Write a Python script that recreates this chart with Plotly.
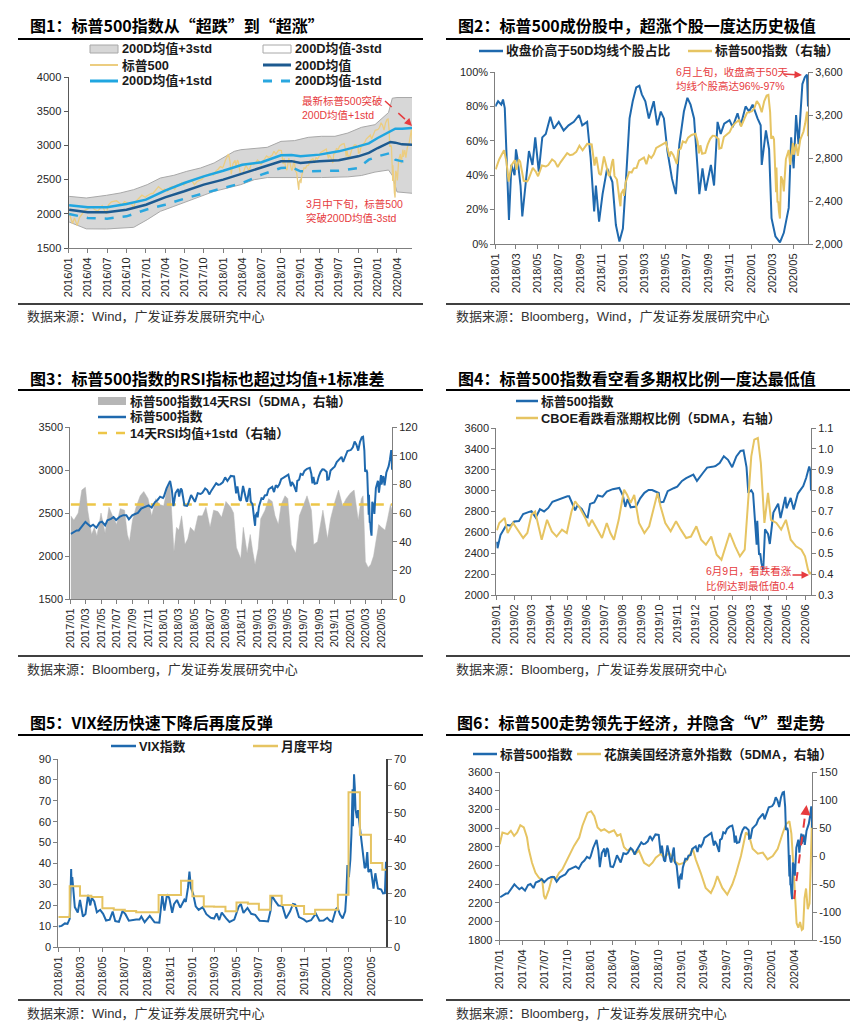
import plotly.graph_objects as go

# ------------------------------------------------------------------ data
END = "2020-06-11"

sp_dates_2016 = ["2016-01-04","2016-01-20","2016-01-29","2016-02-11","2016-02-22","2016-03-04","2016-03-18","2016-04-01","2016-04-20","2016-05-06","2016-05-19","2016-06-08","2016-06-27","2016-07-08","2016-07-22","2016-08-15","2016-09-09","2016-09-22","2016-10-07","2016-10-25","2016-11-04","2016-11-10","2016-11-25","2016-12-13","2016-12-30"]
sp_close_2016 = [2013,1859,1940,1829,1946,1999,2050,2073,2102,2057,2040,2119,2001,2130,2175,2191,2128,2177,2153,2143,2085,2167,2213,2272,2239]
sp_dates_2017 = ["2017-01-03","2017-01-13","2017-01-26","2017-02-03","2017-02-15","2017-03-01","2017-03-10","2017-03-21","2017-03-31","2017-04-13","2017-04-25","2017-05-05","2017-05-17","2017-05-26","2017-06-09","2017-06-19","2017-06-29","2017-07-14","2017-07-27","2017-08-08","2017-08-18","2017-08-31","2017-09-11","2017-09-22","2017-10-05","2017-10-20","2017-11-03","2017-11-15","2017-11-28","2017-12-08","2017-12-18","2017-12-29"]
sp_close_2017 = [2258,2275,2297,2297,2349,2396,2372,2344,2363,2329,2388,2399,2357,2416,2432,2453,2419,2459,2475,2474,2426,2472,2488,2502,2552,2575,2588,2564,2627,2652,2690,2674]
sp_dates_2018 = ["2018-01-02","2018-01-12","2018-01-26","2018-02-02","2018-02-08","2018-02-16","2018-02-26","2018-03-02","2018-03-09","2018-03-13","2018-03-23","2018-04-02","2018-04-06","2018-04-18","2018-04-27","2018-05-03","2018-05-14","2018-05-25","2018-06-01","2018-06-12","2018-06-20","2018-06-28","2018-07-06","2018-07-17","2018-07-25","2018-08-02","2018-08-10","2018-08-20","2018-08-29","2018-09-07","2018-09-20","2018-10-03","2018-10-11","2018-10-16","2018-10-24","2018-10-29","2018-11-07","2018-11-20","2018-11-23","2018-11-30","2018-12-03","2018-12-07","2018-12-14","2018-12-21","2018-12-24","2018-12-26","2018-12-31"]
sp_close_2018 = [2695,2786,2873,2762,2581,2732,2780,2691,2786,2765,2588,2582,2604,2708,2670,2630,2730,2721,2735,2786,2767,2716,2760,2809,2846,2827,2833,2857,2914,2872,2931,2926,2729,2810,2656,2641,2814,2642,2633,2760,2790,2633,2600,2417,2351,2468,2507]
sp_dates_2019 = ["2019-01-02","2019-01-03","2019-01-08","2019-01-18","2019-01-25","2019-01-31","2019-02-08","2019-02-15","2019-02-25","2019-03-01","2019-03-08","2019-03-15","2019-03-22","2019-03-29","2019-04-05","2019-04-12","2019-04-23","2019-04-30","2019-05-03","2019-05-13","2019-05-17","2019-05-24","2019-05-31","2019-06-03","2019-06-07","2019-06-14","2019-06-20","2019-06-28","2019-07-05","2019-07-15","2019-07-26","2019-08-01","2019-08-05","2019-08-09","2019-08-14","2019-08-23","2019-08-30","2019-09-06","2019-09-13","2019-09-19","2019-09-30","2019-10-02","2019-10-08","2019-10-15","2019-10-25","2019-10-31","2019-11-08","2019-11-15","2019-11-27","2019-12-03","2019-12-13","2019-12-20","2019-12-31"]
sp_close_2019 = [2510,2448,2574,2671,2665,2704,2708,2776,2796,2804,2743,2822,2800,2834,2893,2907,2934,2946,2946,2812,2860,2826,2752,2744,2873,2887,2954,2942,2990,3014,3026,2953,2844,2919,2840,2847,2926,2979,3007,3006,2977,2887,2893,2995,3023,3038,3093,3120,3153,3093,3169,3221,3231]
sp_dates_2020 = ["2020-01-03","2020-01-10","2020-01-17","2020-01-24","2020-01-31","2020-02-07","2020-02-14","2020-02-19","2020-02-24","2020-02-27","2020-03-03","2020-03-06","2020-03-09","2020-03-12","2020-03-13","2020-03-16","2020-03-18","2020-03-20","2020-03-23","2020-03-26","2020-03-31","2020-04-03","2020-04-09","2020-04-17","2020-04-21","2020-04-29","2020-05-01","2020-05-08","2020-05-13","2020-05-20","2020-05-29","2020-06-03","2020-06-08","2020-06-10","2020-06-11"]
sp_close_2020 = [3235,3265,3330,3295,3225,3328,3380,3386,3226,2979,3003,2972,2747,2481,2711,2386,2398,2305,2237,2630,2585,2489,2790,2875,2737,2940,2831,2930,2820,2972,3044,3123,3232,3190,3002]

sp_dates = sp_dates_2016 + sp_dates_2017 + sp_dates_2018 + sp_dates_2019 + sp_dates_2020
sp_close = sp_close_2016 + sp_close_2017 + sp_close_2018 + sp_close_2019 + sp_close_2020

# panel 1: 200-day moving average and its bands
p1_dates = ["2016-01-04","2016-04-01","2016-07-01","2016-10-01","2017-01-01","2017-04-01","2017-07-01","2017-10-01","2018-01-01","2018-04-01","2018-07-01","2018-10-01","2018-11-20","2019-01-01","2019-04-01","2019-07-01","2019-10-01","2019-11-20","2020-01-01","2020-03-01","2020-03-24","2020-04-25","2020-06-11"]
p1_ma200 = [2060,2022,2024,2060,2133,2241,2329,2426,2499,2587,2680,2767,2770,2743,2767,2782,2840,2890,2962,3050,3040,3015,3011]
p1_ma200_up1 = [2124,2095,2095,2143,2207,2338,2450,2548,2630,2718,2753,2855,2860,2840,2865,2913,2986,3030,3108,3215,3245,3245,3254]
p1_ma200_dn1 = [1997,1939,1929,1963,2060,2133,2221,2304,2377,2450,2572,2670,2680,2621,2630,2630,2670,2791,2840,2889,2791,2767,2777]
p1_band_dates = ["2016-01-04","2016-03-25","2016-06-28","2016-09-01","2016-11-04","2017-01-07","2017-03-10","2017-05-13","2017-07-13","2017-09-16","2017-11-19","2018-01-22","2018-02-22","2018-03-25","2018-05-28","2018-07-28","2018-10-01","2018-12-04","2019-02-07","2019-04-10","2019-06-13","2019-08-13","2019-10-16","2019-12-19","2020-02-21","2020-03-10","2020-04-01","2020-06-11"]
p1_ma200_up3 = [2255,2231,2270,2304,2353,2426,2523,2563,2621,2670,2743,2864,2913,2937,2952,2972,3059,3070,3118,3133,3133,3181,3264,3303,3480,3690,3700,3700]
p1_ma200_dn3 = [1880,1780,1778,1792,1802,1914,2036,2109,2182,2255,2328,2377,2400,2426,2499,2530,2530,2530,2520,2530,2535,2540,2560,2610,2640,2560,2320,2300]

# panel 2: share of S&P 500 members above their 50-day average (%)
p2_dates = ["2018-01-01","2018-01-09","2018-01-18","2018-01-23","2018-01-28","2018-02-02","2018-02-06","2018-02-09","2018-02-16","2018-02-25","2018-03-01","2018-03-05","2018-03-14","2018-03-19","2018-03-28","2018-04-07","2018-04-17","2018-04-25","2018-05-05","2018-05-15","2018-05-25","2018-06-07","2018-06-17","2018-07-01","2018-07-15","2018-07-29","2018-08-13","2018-08-28","2018-09-06","2018-09-20","2018-09-30","2018-10-10","2018-10-15","2018-10-24","2018-11-03","2018-11-16","2018-12-01","2018-12-11","2018-12-21","2018-12-31","2019-01-09","2019-01-19","2019-01-28","2019-02-07","2019-02-16","2019-02-23","2019-03-05","2019-03-15","2019-03-29","2019-04-08","2019-04-18","2019-04-27","2019-05-07","2019-05-20","2019-05-31","2019-06-10","2019-06-23","2019-07-03","2019-07-12","2019-07-22","2019-08-01","2019-08-06","2019-08-15","2019-08-24","2019-09-08","2019-09-17","2019-09-27","2019-10-06","2019-10-16","2019-10-31","2019-11-09","2019-11-23","2019-12-02","2019-12-16","2019-12-26","2020-01-05","2020-01-19","2020-01-28","2020-01-31","2020-02-12","2020-02-21","2020-02-28","2020-03-10","2020-03-23","2020-04-03","2020-04-17","2020-04-24","2020-05-01","2020-05-08","2020-05-15","2020-05-26","2020-06-02","2020-06-08","2020-06-10","2020-06-11"]
p2_pct_above_50d = [80,83,81,84,79,54,29,14,46,40,55,50,34,16,34,54,46,62,42,62,64,74,67,71,66,69,71,75,69,71,50,19,34,13,29,44,36,11,1.5,9,38,73,83,91,92,87,83,73,83,69,77,73,54,38,29,58,77,85,81,73,44,29,44,31,46,34,71,64,70,72,68,76,69,80,77,81,73,69,46,66,55,15,4.5,1,6.5,21,62,44,75,58,93,97,98.5,91,80]

# panel 3: 14-day RSI of the S&P 500, 5-day average
p3_rsi_dates = ["2017-01-03","2017-01-15","2017-02-01","2017-02-15","2017-03-01","2017-03-10","2017-03-25","2017-04-05","2017-04-15","2017-05-01","2017-05-17","2017-06-01","2017-06-15","2017-07-01","2017-07-15","2017-08-01","2017-08-12","2017-08-20","2017-09-01","2017-09-15","2017-10-01","2017-10-15","2017-11-01","2017-11-15","2017-12-01","2017-12-15","2018-01-01","2018-01-15","2018-01-26","2018-02-05","2018-02-10","2018-02-20","2018-03-01","2018-03-12","2018-03-25","2018-04-05","2018-04-15","2018-05-01","2018-05-15","2018-06-01","2018-06-15","2018-07-01","2018-07-15","2018-08-01","2018-08-15","2018-09-01","2018-09-20","2018-10-01","2018-10-12","2018-10-29","2018-11-08","2018-11-23","2018-12-05","2018-12-15","2018-12-24","2019-01-05","2019-01-15","2019-02-01","2019-02-15","2019-03-01","2019-03-12","2019-03-25","2019-04-05","2019-04-20","2019-05-01","2019-05-15","2019-06-01","2019-06-15","2019-07-01","2019-07-15","2019-08-01","2019-08-10","2019-08-25","2019-09-05","2019-09-15","2019-10-03","2019-10-15","2019-11-01","2019-11-15","2019-12-01","2019-12-15","2020-01-01","2020-01-15","2020-01-31","2020-02-12","2020-02-19","2020-02-28","2020-03-10","2020-03-20","2020-03-31","2020-04-10","2020-04-20","2020-05-01","2020-05-15","2020-05-25","2020-06-05","2020-06-11"]
p3_rsi_5dma = [58,55,60,76,78,62,45,50,44,60,46,64,58,52,63,62,45,40,55,64,72,75,70,58,70,66,65,78,80,45,33,50,48,58,38,42,50,47,58,58,64,50,62,61,57,68,64,60,36,28,50,32,45,33,24,35,56,62,70,68,58,52,66,72,70,38,32,58,66,72,62,38,40,52,62,42,56,68,76,65,70,74,76,55,70,72,26,22,24,30,42,52,50,48,56,66,62]
p3_rsi_threshold = 66

# panel 4: CBOE put/call ratio, 5-day average
p4_dates = ["2019-01-02","2019-01-06","2019-01-15","2019-01-20","2019-01-29","2019-02-07","2019-02-15","2019-02-22","2019-03-01","2019-03-07","2019-03-12","2019-03-18","2019-03-27","2019-04-04","2019-04-12","2019-04-21","2019-04-29","2019-05-07","2019-05-13","2019-05-21","2019-05-30","2019-06-05","2019-06-10","2019-06-19","2019-06-27","2019-07-05","2019-07-11","2019-07-17","2019-07-25","2019-08-03","2019-08-08","2019-08-14","2019-08-20","2019-08-28","2019-09-06","2019-09-14","2019-09-22","2019-09-28","2019-10-03","2019-10-11","2019-10-20","2019-10-29","2019-11-06","2019-11-15","2019-11-23","2019-12-02","2019-12-10","2019-12-18","2019-12-27","2020-01-05","2020-01-13","2020-01-22","2020-01-27","2020-02-05","2020-02-13","2020-02-21","2020-02-26","2020-03-03","2020-03-08","2020-03-14","2020-03-19","2020-03-25","2020-03-31","2020-04-05","2020-04-14","2020-04-22","2020-04-30","2020-05-08","2020-05-17","2020-05-26","2020-06-01","2020-06-06","2020-06-09","2020-06-11"]
p4_put_call = [0.61,0.645,0.669,0.597,0.645,0.605,0.573,0.597,0.685,0.70,0.645,0.565,0.66,0.605,0.58,0.613,0.597,0.70,0.749,0.717,0.669,0.629,0.66,0.613,0.573,0.645,0.597,0.565,0.66,0.804,0.78,0.741,0.78,0.645,0.597,0.629,0.725,0.789,0.725,0.645,0.605,0.653,0.613,0.573,0.58,0.629,0.565,0.541,0.58,0.493,0.469,0.549,0.597,0.533,0.485,0.517,0.70,0.964,1.044,1.052,0.932,0.645,0.789,0.66,0.645,0.613,0.66,0.565,0.533,0.517,0.485,0.421,0.40,0.41]

# panel 5: VIX and its monthly average
p5_vix_dates = ["2018-01-02","2018-01-10","2018-01-19","2018-01-26","2018-02-01","2018-02-02","2018-02-05","2018-02-06","2018-02-08","2018-02-12","2018-02-15","2018-02-23","2018-03-01","2018-03-09","2018-03-16","2018-03-23","2018-03-29","2018-04-02","2018-04-09","2018-04-16","2018-04-25","2018-05-03","2018-05-11","2018-05-21","2018-05-29","2018-06-05","2018-06-15","2018-06-25","2018-07-03","2018-07-12","2018-07-20","2018-08-01","2018-08-10","2018-08-15","2018-08-24","2018-09-07","2018-09-20","2018-10-03","2018-10-10","2018-10-11","2018-10-17","2018-10-24","2018-10-30","2018-11-07","2018-11-12","2018-11-20","2018-11-29","2018-12-04","2018-12-10","2018-12-14","2018-12-20","2018-12-24","2018-12-28","2019-01-03","2019-01-10","2019-01-18","2019-01-29","2019-02-08","2019-02-20","2019-03-01","2019-03-08","2019-03-15","2019-03-22","2019-04-03","2019-04-12","2019-04-25","2019-05-07","2019-05-13","2019-05-20","2019-05-31","2019-06-10","2019-06-21","2019-07-03","2019-07-15","2019-07-26","2019-08-02","2019-08-05","2019-08-14","2019-08-23","2019-09-03","2019-09-13","2019-09-24","2019-10-02","2019-10-08","2019-10-18","2019-10-31","2019-11-08","2019-11-20","2019-12-03","2019-12-13","2019-12-24","2020-01-03","2020-01-10","2020-01-17","2020-01-27","2020-01-31","2020-02-07","2020-02-14","2020-02-21","2020-02-24","2020-02-27","2020-03-02","2020-03-06","2020-03-09","2020-03-12","2020-03-13","2020-03-16","2020-03-18","2020-03-20","2020-03-24","2020-03-27","2020-04-01","2020-04-07","2020-04-14","2020-04-17","2020-04-21","2020-04-24","2020-05-01","2020-05-08","2020-05-13","2020-05-20","2020-05-29","2020-06-03","2020-06-08","2020-06-11"]
p5_vix = [9.8,10.1,11.3,11.1,13.5,17.3,37.3,29.9,33.5,25.6,19.1,16.5,22.5,14.6,15.8,24.9,19.9,23.6,21.8,16.6,17.8,15.9,12.7,13.1,17.0,12.4,12.0,17.3,15.6,12.6,12.9,13.2,13.2,14.6,11.9,14.9,11.8,11.6,23.0,25.0,17.4,25.2,23.4,16.4,20.5,22.5,18.8,20.7,22.6,21.6,28.4,36.1,28.3,25.5,19.5,17.8,19.1,15.7,14.0,13.6,16.1,12.9,16.5,13.7,12.0,13.1,19.3,20.6,16.3,18.7,15.9,15.4,12.6,12.4,12.2,17.6,24.6,22.1,19.9,19.7,13.7,17.1,20.6,20.3,14.3,13.2,12.1,12.8,16.0,12.6,12.7,14.0,12.6,12.1,18.2,18.8,15.5,13.7,17.1,25.0,39.2,33.4,41.9,54.5,75.5,57.8,82.7,76.5,66.0,61.7,65.5,57.1,46.7,37.8,38.2,45.4,35.9,37.2,28.0,35.3,28.0,27.5,25.7,25.8,40.8]
p5_month_dates = ["2018-01-01","2018-02-01","2018-03-01","2018-04-01","2018-05-01","2018-06-01","2018-07-01","2018-08-01","2018-09-01","2018-10-01","2018-11-01","2018-12-01","2019-01-01","2019-02-01","2019-03-01","2019-04-01","2019-05-01","2019-06-01","2019-07-01","2019-08-01","2019-09-01","2019-10-01","2019-11-01","2019-12-01","2020-01-01","2020-02-01","2020-03-01","2020-04-01","2020-05-01","2020-06-01"]
p5_month_avg = [11.2,22.6,19.1,18.6,14.4,13.9,13.4,12.9,12.9,19.4,19.4,24.7,18.9,15.1,15.0,13.3,16.6,16.1,13.9,19.1,15.6,15.3,12.3,13.9,13.9,19.5,57.6,41.8,31.3,28.8]

# panel 6: Citi US economic surprise index, 5-day average
p6_dates = ["2017-01-01","2017-01-12","2017-02-02","2017-02-15","2017-02-28","2017-03-12","2017-03-25","2017-04-08","2017-04-21","2017-04-28","2017-05-11","2017-05-25","2017-06-08","2017-06-21","2017-06-28","2017-07-04","2017-07-18","2017-08-01","2017-08-14","2017-08-28","2017-09-10","2017-10-01","2017-10-14","2017-10-27","2017-11-17","2017-11-30","2017-12-20","2018-01-04","2018-01-17","2018-01-30","2018-02-13","2018-02-26","2018-03-17","2018-04-06","2018-04-19","2018-05-02","2018-05-16","2018-05-29","2018-06-12","2018-07-02","2018-07-15","2018-08-05","2018-08-25","2018-09-08","2018-09-21","2018-10-11","2018-10-25","2018-11-14","2018-12-04","2018-12-24","2019-01-14","2019-01-27","2019-02-17","2019-03-01","2019-03-21","2019-04-10","2019-05-01","2019-05-14","2019-05-27","2019-06-16","2019-07-06","2019-07-26","2019-08-09","2019-08-30","2019-09-19","2019-10-02","2019-10-16","2019-11-06","2019-11-26","2019-12-15","2020-01-05","2020-01-25","2020-02-15","2020-02-28","2020-03-12","2020-03-20","2020-03-27","2020-04-03","2020-04-10","2020-04-17","2020-04-24","2020-05-01","2020-05-06","2020-05-12","2020-05-18","2020-05-25","2020-06-01","2020-06-05","2020-06-11"]
p6_citi = [21,42,39,45,36,42,55,51,33,12,-12,-30,-39,-42,-71,-77,-60,-36,-42,-30,-24,-6,6,18,33,54,77,80,71,51,45,48,42,46,36,39,16,10,13,4,10,-12,-18,-12,-3,4,-3,6,-9,-15,-12,-6,13,-6,-30,-57,-66,-54,-36,-57,-69,-51,-33,0,42,36,13,4,6,-6,0,13,42,57,62,40,-10,-80,-120,-128,-118,-132,-130,-75,-58,-95,-85,-30,70]
p6_ticks = [-150,-100,-50,0,50,100,150]
p6_ticklabels = ["-150","-100","-50","0","50","100","150"]

# ------------------------------------------------------------------ style
W, H = 858, 1028
NUM = "Liberation Sans, Arial, Noto Sans CJK SC"
CJK = "Noto Sans CJK SC"
AX = "#7F7F7F"
BLUE = "#1F69AE"
YEL = "#E6C462"
RED = "#E63B3E"
TICKFONT = dict(family=NUM, size=11, color="#262626")


def sp_from(start):
    xs = [d for d in sp_dates if d >= start]
    ys = [v for d, v in zip(sp_dates, sp_close) if d >= start]
    return xs, ys


def xax(x0, x1, start, dtick, anchor):
    return dict(domain=[x0 / W, x1 / W], type="date", range=[start, END], tick0=start,
                dtick=dtick, tickformat="%Y/%m", tickangle=-90, ticks="outside", ticklen=4,
                tickcolor=AX, showline=True, linecolor=AX, linewidth=1, showgrid=False,
                zeroline=False, tickfont=TICKFONT, anchor=anchor, automargin=False)


def yax(y0, y1, rng, dtick, side, anchor, overlaying=None, **kw):
    d = dict(domain=[1 - y1 / H, 1 - y0 / H], range=rng, tick0=rng[0], dtick=dtick, side=side,
             anchor=anchor, ticks="outside", ticklen=4, tickcolor=AX, showline=True,
             linecolor=AX, linewidth=1, showgrid=False, zeroline=False, tickfont=TICKFONT,
             automargin=False)
    if overlaying:
        d["overlaying"] = overlaying
    d.update(kw)
    return d


fig = go.Figure()


def line(x, y, xa, ya, color, width=2, dash="solid", **kw):
    fig.add_trace(go.Scatter(x=x, y=y, xaxis=xa, yaxis=ya, mode="lines",
                             line=dict(color=color, width=width, dash=dash), showlegend=False,
                             hoverinfo="skip", **kw))


# ---- panel 1
line(p1_band_dates, p1_ma200_up3, "x", "y", "#A8A8A8", 1, fill="tozeroy", fillcolor="#D7D7D7")
line(p1_band_dates, p1_ma200_dn3, "x", "y", "#A8A8A8", 1, fill="tozeroy", fillcolor="#FFFFFF")
x16, y16 = sp_from("2016-01-01")
line(x16, y16, "x", "y", "#ECCD80", 1.3)
line(p1_dates, p1_ma200_dn1, "x", "y", "#2AA7DF", 2.5, "dash")
line(p1_dates, p1_ma200, "x", "y", "#1D5A90", 2.5)
line(p1_dates, p1_ma200_up1, "x", "y", "#20A6E0", 2.5)

# ---- panel 2
line(p2_dates, p2_pct_above_50d, "x2", "y2", BLUE, 2)
x18, y18 = sp_from("2018-01-01")
line(x18, y18, "x2", "y3", YEL, 2)

# ---- panel 3
line(p3_rsi_dates, p3_rsi_5dma, "x3", "y4", "#B6B6B6", 0.5, fill="tozeroy", fillcolor="#B6B6B6")
line([p3_rsi_dates[0], END], [p3_rsi_threshold, p3_rsi_threshold], "x3", "y4", "#EDC648", 2.5, "9px,7px")
x17, y17 = sp_from("2017-01-01")
line(x17, y17, "x3", "y5", BLUE, 2)

# ---- panel 4
x19, y19 = sp_from("2019-01-01")
line(x19, y19, "x4", "y6", BLUE, 2)
line(p4_dates, p4_put_call, "x4", "y7", YEL, 2)

# ---- panel 5
line(p5_vix_dates, p5_vix, "x5", "y8", BLUE, 2)
line(p5_month_dates + [END], p5_month_avg + [p5_month_avg[-1]], "x5", "y9", YEL, 2, line_shape="hv")

# ---- panel 6
line(p6_dates, p6_citi, "x6", "y10", YEL, 2)
line(x17, y17, "x6", "y11", BLUE, 2)

layout = dict(
    width=W, height=H, margin=dict(l=0, r=0, t=0, b=0), template="none",
    paper_bgcolor="white", plot_bgcolor="white", showlegend=False,
    font=dict(family=NUM, size=11, color="#262626"),
    xaxis=xax(60.5, 404, "2016-01-01", "M3", "y"),
    yaxis=yax(69, 240, [1500, 4000], 500, "left", "x", tickformat="d",
              linecolor="#595959", tickcolor="#595959"),
    xaxis2=xax(487.3, 800, "2018-01-01", "M2", "y2"),
    yaxis2=yax(64, 236, [0, 100], 20, "left", "x2", ticksuffix="%"),
    yaxis3=yax(64, 236, [2000, 3600], 400, "right", "x2", "y2", tickformat=",d"),
    xaxis3=xax(62.3, 384, "2017-01-01", "M2", "y4"),
    yaxis4=yax(419, 591, [0, 120], 20, "right", "x3"),
    yaxis5=yax(419, 591, [1500, 3500], 500, "left", "x3", "y4", tickformat="d"),
    xaxis4=xax(488.3, 803, "2019-01-01", "M1", "y6"),
    yaxis6=yax(420, 587, [2000, 3600], 200, "left", "x4", tickformat="d"),
    yaxis7=yax(420, 587, [0.3, 1.1], 0.1, "right", "x4", "y6", tickformat=".1f"),
    xaxis5=xax(50.3, 378, "2018-01-01", "M2", "y8"),
    yaxis8=yax(751, 939, [0, 90], 10, "left", "x5"),
    yaxis9=yax(751, 939, [0, 70], 10, "right", "x5", "y8", linecolor="#404040", linewidth=1.5),
    xaxis6=xax(491.7, 804, "2017-01-01", "M3", "y10"),
    yaxis10=yax(764, 932, [-150, 150], 50, "right", "x6", tickvals=p6_ticks, ticktext=p6_ticklabels),
    yaxis11=yax(764, 932, [1800, 3600], 200, "left", "x6", "y10", tickformat="d"),
)
fig.update_layout(**layout)

shapes, annos = [], []


def T(x, y, text, size, color="#1A1A1A", family=NUM, weight="normal"):
    annos.append(dict(xref="paper", yref="paper", x=x / W, y=1 - y / H, text=text, showarrow=False,
                      xanchor="left", yanchor="middle",
                      font=dict(family=family, size=size, color=color, weight=weight)))


def hl(x0, x1, y, color, width, dash="solid"):
    shapes.append(dict(type="line", xref="paper", yref="paper", x0=x0 / W, x1=x1 / W,
                       y0=1 - y / H, y1=1 - y / H, line=dict(color=color, width=width, dash=dash)))


def seg(x0, y0, x1, y1, color, width, dash="solid"):
    shapes.append(dict(type="line", xref="paper", yref="paper", x0=x0 / W, x1=x1 / W,
                       y0=1 - y0 / H, y1=1 - y1 / H, line=dict(color=color, width=width, dash=dash)))


def box(x0, x1, y0, y1, fill, edge, lw):
    shapes.append(dict(type="rect", xref="paper", yref="paper", x0=x0 / W, x1=x1 / W,
                       y0=1 - y1 / H, y1=1 - y0 / H, fillcolor=fill, line=dict(color=edge, width=lw)))


def arrow(xt, yt, xh, yh, color, width=1.5):
    annos.append(dict(xref="paper", yref="paper", x=xh / W, y=1 - yh / H, axref="pixel",
                      ayref="pixel", ax=xt - xh, ay=yt - yh, text="", showarrow=True,
                      arrowhead=2, arrowsize=1, arrowwidth=width, arrowcolor=color, standoff=0))


TS = 16     # title size
LS = 12.8   # legend size
SS = 13     # source size
LW = 600

# frame lines, titles, sources
for (xl, xr) in [(10, 415), (438, 843)]:
    for y in [31, 296, 382, 648, 727, 992]:
        hl(xl, xr, y, "#000000", 2 if y in (31, 382, 727) else 1.6)

T(20, 17, "<b>图1：标普500指数从“超跌”到“超涨”</b>", TS, "#000", CJK)
T(448, 17, "<b>图2：标普500成份股中，超涨个股一度达历史极值</b>", TS, "#000", CJK)
T(20, 370, "<b>图3：标普500指数的RSI指标也超过均值+1标准差</b>", TS, "#000", CJK)
T(448, 370, "<b>图4：标普500指数看空看多期权比例一度达最低值</b>", TS, "#000", CJK)
T(20, 714, "<b>图5：VIX经历快速下降后再度反弹</b>", TS, "#000", CJK)
T(447, 714, "<b>图6：标普500走势领先于经济，并隐含“V”型走势</b>", TS, "#000", CJK)

T(17, 308, "数据来源：Wind，广发证券发展研究中心", SS, "#333")
T(446, 308, "数据来源：Bloomberg，Wind，广发证券发展研究中心", SS, "#333")
T(17, 661, "数据来源：Bloomberg，广发证券发展研究中心", SS, "#333")
T(446, 661, "数据来源：Bloomberg，广发证券发展研究中心", SS, "#333")
T(17, 1005, "数据来源：Wind，广发证券发展研究中心", SS, "#333")
T(446, 1005, "数据来源：Bloomberg，广发证券发展研究中心", SS, "#333")

# legends panel 1
box(82, 110, 37, 45, "#D7D7D7", "#A8A8A8", 1)
T(112, 41, "200D均值+3std", LS, weight=LW)
box(255, 283, 37, 45, "#FFFFFF", "#A8A8A8", 1)
T(285, 41, "200D均值-3std", LS, weight=LW)
hl(82, 110, 57, "#ECCD80", 2)
T(112, 57, "标普500", LS, weight=LW)
hl(255, 283, 57, "#1D5A90", 3)
T(285, 57, "200D均值", LS, weight=LW)
hl(82, 110, 73, "#20A6E0", 3)
T(112, 73, "200D均值+1std", LS, weight=LW)
hl(255, 283, 73, "#2AA7DF", 3, "dash")
T(285, 73, "200D均值-1std", LS, weight=LW)

# legend panel 2
hl(471, 495, 43, BLUE, 2.5)
T(496, 43, "收盘价高于50D均线个股占比", LS, weight=LW)
hl(680, 704, 43, YEL, 2.5)
T(705, 43, "标普500指数（右轴）", LS, weight=LW)

# legend panel 3
box(90, 118, 389, 397, "#B6B6B6", "#B6B6B6", 0)
T(120, 393, "标普500指数14天RSI（5DMA，右轴）", LS, weight=LW)
hl(90, 118, 409, BLUE, 2.5)
T(120, 409, "标普500指数", LS, weight=LW)
hl(90, 118, 425, "#EDC648", 2.5, "dash")
T(120, 425, "14天RSI均值+1std（右轴）", LS, weight=LW)

# legend panel 4
hl(508, 530, 393, BLUE, 2.5)
T(531, 393, "标普500指数", LS, weight=LW)
hl(508, 530, 410, YEL, 2.5)
T(531, 410, "CBOE看跌看涨期权比例（5DMA，右轴）", LS, weight=LW)

# legend panel 5
hl(103, 128, 738, BLUE, 2.5)
T(129, 738, "VIX指数", LS, weight=LW)
hl(245, 270, 738, YEL, 2.5)
T(271, 738, "月度平均", LS, weight=LW)

# legend panel 6
hl(465, 489, 746, BLUE, 2.5)
T(490, 746, "标普500指数", LS, weight=LW)
hl(569, 593, 746, YEL, 2.5)
T(594, 746, "花旗美国经济意外指数（5DMA，右轴）", LS, weight=LW)

# red call-outs
RS = 10.5
T(292, 93, "最新标普500突破", RS, RED)
T(292, 107, "200D均值+1std", RS, RED)
seg(377, 93, 399, 113, RED, 1.5, "dash")
arrow(398, 112, 404, 118, RED)
T(296, 196, "3月中下旬，标普500", RS, RED)
T(296, 210, "突破200D均值-3std", RS, RED)

T(666, 64, "6月上旬，收盘高于50天", RS, RED)
T(666, 78, "均线个股高达96%-97%", RS, RED)
arrow(774, 66, 794, 67, RED)

T(696, 563, "6月9日，看跌看涨", RS, RED)
T(696, 578, "比例达到最低值0.4", RS, RED)
arrow(783, 567, 801, 567, RED)

seg(786, 891, 797.5, 804, RED, 2, "dash")
arrow(797.5, 806, 798.5, 797, RED, 2)

fig.update_layout(shapes=shapes, annotations=annos)
fig.write_html("out.html")
